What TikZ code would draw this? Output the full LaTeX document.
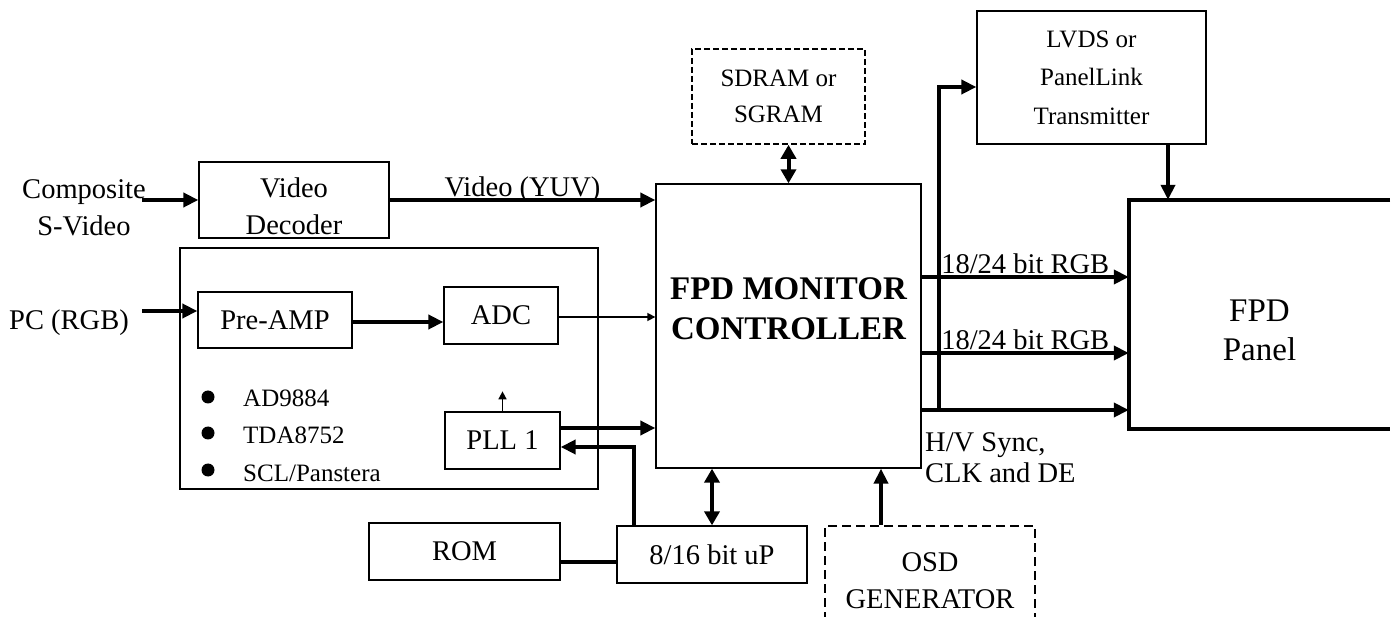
\documentclass[tikz,border=0pt]{standalone}
\usepackage{fontspec}
\setmainfont{Liberation Serif}
\usetikzlibrary{arrows.meta}
\newcommand{\fmain}{\fontsize{28.5}{37}\selectfont}
\newcommand{\fhv}{\fontsize{28.5}{31}\selectfont}
\newcommand{\fsmall}{\fontsize{25}{36}\selectfont}
\newcommand{\fsmallb}{\fontsize{25}{38.5}\selectfont}
\newcommand{\fbig}{\fontsize{33}{39}\selectfont}
\newcommand{\fbold}{\fontsize{33}{40}\selectfont\bfseries}
\begin{document}
\begin{tikzpicture}[x=1pt,y=-1pt,
  box/.style={draw, line width=1.3pt, inner sep=0pt, align=center, font=\fmain},
  frontbox/.style={draw, line width=2.5pt, inner sep=0pt},
  dbox/.style={box, line width=1.6pt, dash pattern=on 6pt off 3pt},
  osdbox/.style={box, line width=2pt, dash pattern=on 9pt off 5pt},
  txt/.style={inner sep=0pt, font=\fmain},
  stxt/.style={inner sep=0pt, font=\fsmall},
  dot/.style={circle, fill, inner sep=0pt, minimum size=13pt},
  arr/.style={line width=4pt, -{Triangle[length=15pt,width=14pt]}},
  darr/.style={line width=4pt, {Triangle[length=14pt,width=15pt]}-{Triangle[length=14pt,width=15pt]}},
  thinarr/.style={line width=1.5pt, -{Triangle[length=8pt,width=8pt]}},
  thickline/.style={line width=4pt},
  panelline/.style={line width=4.5pt}
]
\clip (0,0) rectangle (1398,617);
\fill[white] (0,0) rectangle (1398,617);

% boxes
\node[box, minimum width=190pt, minimum height=76pt] (vdec) at (294,200) {\rule{0pt}{33pt}Video\\Decoder};
\node[frontbox, minimum width=418pt, minimum height=241pt] (front) at (389,368.5) {};
\node[box, minimum width=154pt, minimum height=56pt] (preamp) at (275,320) {Pre-AMP};
\node[box, minimum width=114pt, minimum height=57pt] (adc) at (501,315.5) {ADC};
\node[box, minimum width=115pt, minimum height=57pt] (pll) at (502.5,440.5) {PLL 1};
\node[box, minimum width=265pt, minimum height=284pt, font=\fbold] (ctrl) at (788.5,326) {FPD MONITOR\\CONTROLLER\rule[-34pt]{0pt}{34pt}};
\node[dbox, minimum width=173pt, minimum height=95pt, font=\fsmall] (sdram) at (778.5,96.5) {SDRAM or\\SGRAM};
\node[box, minimum width=229pt, minimum height=133pt, font=\fsmallb] (lvds) at (1091.5,77.5) {LVDS or\\PanelLink\\Transmitter};
\node[box, minimum width=191pt, minimum height=57pt] (rom) at (464.5,551.5) {ROM};
\node[box, minimum width=190pt, minimum height=57pt] (up) at (712,554.5) {8/16 bit uP};
\node[osdbox, minimum width=210pt, minimum height=110pt] (osd) at (930,581) {OSD\\GENERATOR};
\node[inner sep=0pt, minimum width=261pt, minimum height=229pt, align=center, font=\fbig] (panel) at (1259.5,314.5) {\rule{0pt}{54pt}FPD\\Panel};
\draw[panelline] (panel.north east) -- (panel.north west) -- (panel.south west) -- (panel.south east);

% texts
\node[txt, align=center] (comp) at (84,207.75) {Composite\\S-Video};
\node[txt, anchor=base west] (pc) at (9,330) {PC (RGB)};
\node[txt, anchor=west, align=left, font=\fhv] (hv) at (925,457.75) {H/V Sync,\\CLK and DE};
\node[dot] (b1) at (208,397) {};
\node[dot] (b2) at (208,433) {};
\node[dot] (b3) at (208,470) {};
\node[stxt, anchor=base west] (t1) at (243,407) {AD9884};
\node[stxt, anchor=base west] (t2) at (243,444) {TDA8752};
\node[stxt, anchor=base west] (t3) at (243,481) {SCL/Panstera};

% connectors
\coordinate (compin) at (142,200);
\draw[arr] (compin) -- (vdec.west);
\coordinate (pcin) at (142,311);
\draw[arr] (pcin) -- (pcin -| preamp.west);
\draw[arr] ([yshift=-2pt]preamp.east) -- ([yshift=-2pt]preamp.east -| adc.west);
\draw[thinarr] ([yshift=-1.5pt]adc.east) -- ([yshift=-1.5pt]adc.east -| ctrl.west);
\draw[thinarr] (pll.north) -- ++(0,-20);
\draw[arr] ([yshift=12.5pt]pll.east) -- ([yshift=12.5pt]pll.east -| ctrl.west);
\draw[arr] ([xshift=18pt]up.north west) |- ([yshift=-6.5pt]pll.east);
\draw[darr] (up.north) -- (up.north |- ctrl.south);
\draw[darr] (ctrl.north) -- (ctrl.north |- sdram.south);
\draw[thickline] ([yshift=-10.5pt]rom.east) -- ([yshift=-10.5pt]rom.east -| up.west);
\draw[arr] ([xshift=-49pt]osd.north) -- ([xshift=-49pt]osd.north |- ctrl.south);
\draw[arr] (vdec.east) -- (vdec.east -| ctrl.west)
  node[txt, midway, anchor=base, yshift=3pt] (vlab) {Video (YUV)};
\draw[arr] ([yshift=49pt]ctrl.east) -- ([yshift=49pt]ctrl.east -| panel.west)
  node[txt, midway, anchor=base, yshift=3.5pt] (rgb1) {18/24 bit RGB};
\draw[arr] ([yshift=-27pt]ctrl.east) -- ([yshift=-27pt]ctrl.east -| panel.west)
  node[txt, midway, anchor=base, yshift=3.5pt] (rgb2) {18/24 bit RGB};
\draw[arr] ([yshift=-84pt]ctrl.east) -- ([yshift=-84pt]ctrl.east -| panel.west);
\coordinate (brk) at (939,410);
\draw[arr] (brk) |- ([yshift=-9.5pt]lvds.west);
\draw[arr] ([xshift=76.5pt]lvds.south) -- ([xshift=76.5pt]lvds.south |- panel.north);
\end{tikzpicture}
\end{document}
